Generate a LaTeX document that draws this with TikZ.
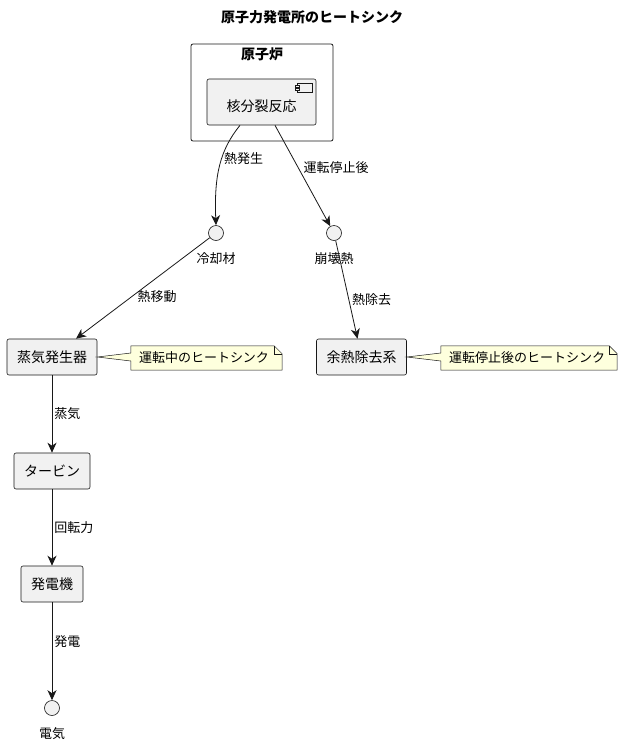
\documentclass[tikz,border=0pt]{standalone}
\usepackage{fontspec}
\setmainfont{Noto Sans CJK JP}
\usetikzlibrary{arrows.meta, positioning, calc}
\definecolor{BoxFill}{HTML}{F1F1F1}
\definecolor{InkDark}{HTML}{181818}
\definecolor{NoteFill}{HTML}{FEFFDD}
\tikzset{
  compbox/.style={draw=InkDark, line width=0.6pt, rounded corners=2pt, fill=BoxFill, align=center, minimum height=36pt, inner xsep=10pt, font=\fontsize{14}{16}\selectfont},
  pkgbox/.style={draw=InkDark, line width=0.8pt, rounded corners=2pt, fill=white},
  iface/.style={circle, draw=InkDark, line width=0.6pt, fill=BoxFill, minimum size=15pt, inner sep=0pt},
  ifacelabel/.style={inner sep=1pt, yshift=-11pt, font=\fontsize{13}{15}\selectfont},
  notetext/.style={inner xsep=7pt, inner ysep=0pt, minimum height=24pt, font=\fontsize{13}{15}\selectfont},
  notepath/.style={draw=InkDark, line width=0.5pt, fill=NoteFill},
  elabel/.style={font=\fontsize{13}{15}\selectfont, inner sep=2pt},
  arrow/.style={-{Stealth[length=10pt, width=9pt, inset=3pt]}, line width=0.8pt, draw=InkDark}
}
\begin{document}
\begin{tikzpicture}[x=1pt, y=-1pt]
\useasboundingbox (0,0) rectangle (624,745);

\node[font=\bfseries\fontsize{14}{16}\selectfont] (title) at (312,17) {原子力発電所のヒートシンク};

% reactor package
\node[pkgbox, minimum width=142pt, minimum height=97pt] (reactor) at (262,92.5) {};
\node[font=\bfseries\fontsize{14}{16}\selectfont, below=1pt of reactor.north] (reactorname) {原子炉};
\node[compbox, minimum width=109pt, minimum height=46pt, text height=20pt, text depth=2pt] (fission) at (261.5,102) {核分裂反応};
\draw[InkDark, line width=0.5pt] ($(fission.north east)+(-19,5)$) rectangle ($(fission.north east)+(-4,14)$);
\draw[InkDark, line width=0.5pt, fill=BoxFill] ($(fission.north east)+(-21,7)$) rectangle ($(fission.north east)+(-17,9)$);
\draw[InkDark, line width=0.5pt, fill=BoxFill] ($(fission.north east)+(-21,10)$) rectangle ($(fission.north east)+(-17,12)$);

% interfaces
\node[iface, label={[ifacelabel]below:冷却材}] (coolant) at (216,233) {};
\node[iface, label={[ifacelabel]below:崩壊熱}] (decayheat) at (334,233) {};

% components
\node[compbox] (sg) at (52,357) {蒸気発生器};
\node[compbox] (rhr) at (361.5,357) {余熱除去系};
\node[compbox] (turbine) at (52,471) {タービン};
\node[compbox] (generator) at (52,584) {発電機};
\node[iface, label={[ifacelabel]below:電気}] (power) at (52,708) {};

% notes
\node[notetext, minimum width=151pt] (note1) at (206.5,358) {};
\node[notetext, minimum width=176pt] (note2) at (529,358) {};
\draw[notepath] (note1.north west) -- ($(note1.north east)+(-8,0)$) -- ($(note1.north east)+(0,8)$) -- (note1.south east) -- (note1.south west) -- ($(note1.west)+(0,3)$) -- (sg.east) -- ($(note1.west)+(0,-5)$) -- cycle;
\draw[InkDark, line width=0.5pt] ($(note1.north east)+(-8,0)$) -- ($(note1.north east)+(-8,8)$) -- ($(note1.north east)+(0,8)$);
\draw[notepath] (note2.north west) -- ($(note2.north east)+(-8,0)$) -- ($(note2.north east)+(0,8)$) -- (note2.south east) -- (note2.south west) -- ($(note2.west)+(0,3)$) -- (rhr.east) -- ($(note2.west)+(0,-5)$) -- cycle;
\draw[InkDark, line width=0.5pt] ($(note2.north east)+(-8,0)$) -- ($(note2.north east)+(-8,8)$) -- ($(note2.north east)+(0,8)$);
\node[notetext, anchor=west] (note1text) at ($(note1.west)+(1,0)$) {運転中のヒートシンク};
\node[notetext, anchor=west] (note2text) at ($(note2.west)+(1,0)$) {運転停止後のヒートシンク};

% connectors
\draw[arrow] ($(fission.south)+(-21.5,0)$) .. controls (220,150) and (214,175) .. (coolant.north) node[elabel, pos=0.42, right=0pt] {熱発生};
\draw[arrow] ($(fission.south)+(13.5,0)$) -- (decayheat) node[elabel, pos=0.42, right=3pt] {運転停止後};
\draw[arrow] (coolant) -- ($(sg.north)+(24,0)$) node[elabel, pos=0.58, right=3pt] {熱移動};
\draw[arrow] (decayheat) -- ($(rhr.north)+(-4,0)$) node[elabel, pos=0.6, right=1pt] {熱除去};
\draw[arrow] (sg) -- (turbine) node[elabel, midway, right] {蒸気};
\draw[arrow] (turbine) -- (generator) node[elabel, midway, right] {回転力};
\draw[arrow] (generator) -- (power) node[elabel, pos=0.4, right] {発電};
\end{tikzpicture}
\end{document}
